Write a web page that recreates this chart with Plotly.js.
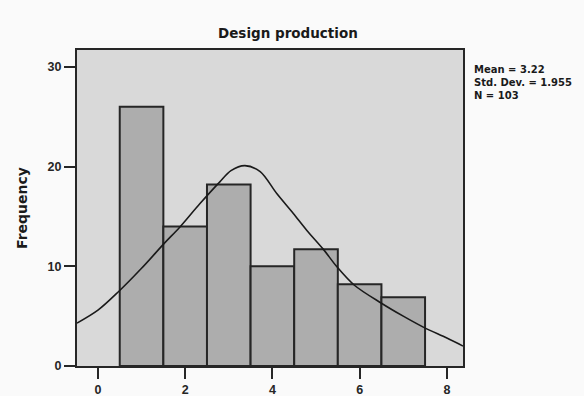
<!DOCTYPE html>
<html>
<head>
<meta charset="utf-8">
<script src="https://cdn.plot.ly/plotly-3.0.1.min.js"></script>
<style>html,body{margin:0;padding:0;background:#fafafa;}#chart{width:584px;height:396px;}</style>
</head>
<body>
<div id="chart"></div>
<script>
const binCenters = [1, 2, 3, 4, 5, 6, 7];
const frequencies = [26, 14, 18.2, 10, 11.7, 8.2, 6.9];
const curveX = [-0.48, 0, 0.47, 1.0, 1.52, 1.87, 2.34, 2.8, 3.05, 3.37, 3.72, 4.1, 4.48, 4.79, 5.17, 5.47, 5.88, 6.5, 7.0, 7.46, 8.0, 8.37];
const curveY = [4.3, 5.6, 7.45, 9.8, 12.3, 13.9, 16.3, 18.5, 19.6, 20.1, 19.5, 17.3, 15.3, 13.6, 11.7, 10.0, 8.1, 6.3, 5.0, 3.9, 2.8, 2.0];
const xTicks = [0, 2, 4, 6, 8];
const yTicks = [0, 10, 20, 30];
const titleText = 'Design production';
const yTitle = 'Frequency';
const statsText = 'Mean = 3.22<br>Std. Dev. = 1.955<br>N = 103';

const data = [
  {
    type: 'bar', x: binCenters, y: frequencies, width: 1,
    marker: {color: '#adadad', line: {color: '#262626', width: 2}},
    hoverinfo: 'skip'
  },
  {
    type: 'scatter', mode: 'lines', x: curveX, y: curveY,
    line: {color: '#1a1a1a', width: 1.6, shape: 'spline', smoothing: 0.9},
    hoverinfo: 'skip'
  }
];

const layout = {
  width: 584, height: 396,
  margin: {l: 77, r: 121, t: 50, b: 30},
  paper_bgcolor: '#fafafa',
  plot_bgcolor: '#d9d9d9',
  showlegend: false,
  bargap: 0,
  title: {
    text: '<b>' + titleText + '</b>',
    font: {family: 'DejaVu Sans', size: 13.5, color: '#1a1a1a'},
    x: 0.493, xref: 'container', xanchor: 'center',
    y: 0.915, yref: 'container', yanchor: 'middle'
  },
  xaxis: {
    range: [-0.48, 8.37], tickvals: xTicks, ticktext: xTicks.map(v => '<b>' + v + '</b>'),
    ticks: 'outside', ticklen: 11, tickwidth: 2, tickcolor: '#262626',
    showgrid: false, zeroline: false,
    showline: true, linecolor: '#262626', linewidth: 2, mirror: true,
    tickfont: {family: 'Liberation Sans', size: 12.5, color: '#262626'}
  },
  yaxis: {
    range: [0, 31.7], tickvals: yTicks, ticktext: yTicks.map(v => '<b>' + v + '</b>'),
    ticks: 'outside', ticklen: 11, tickwidth: 2, tickcolor: '#262626',
    showgrid: false, zeroline: false,
    showline: true, linecolor: '#262626', linewidth: 2, mirror: true,
    tickfont: {family: 'Liberation Sans', size: 12.5, color: '#262626'},
    title: {text: '<b>' + yTitle + '</b>', font: {family: 'DejaVu Sans', size: 14, color: '#1a1a1a'}, standoff: 17}
  },
  annotations: [
    {
      text: '<b>' + statsText + '</b>', xref: 'paper', yref: 'paper',
      x: 1.024, y: 0.962, xanchor: 'left', yanchor: 'top', align: 'left',
      showarrow: false,
      font: {family: 'DejaVu Sans', size: 10, color: '#1a1a1a'}
    }
  ]
};

Plotly.newPlot('chart', data, layout, {displayModeBar: false, staticPlot: true});
</script>
</body>
</html>
